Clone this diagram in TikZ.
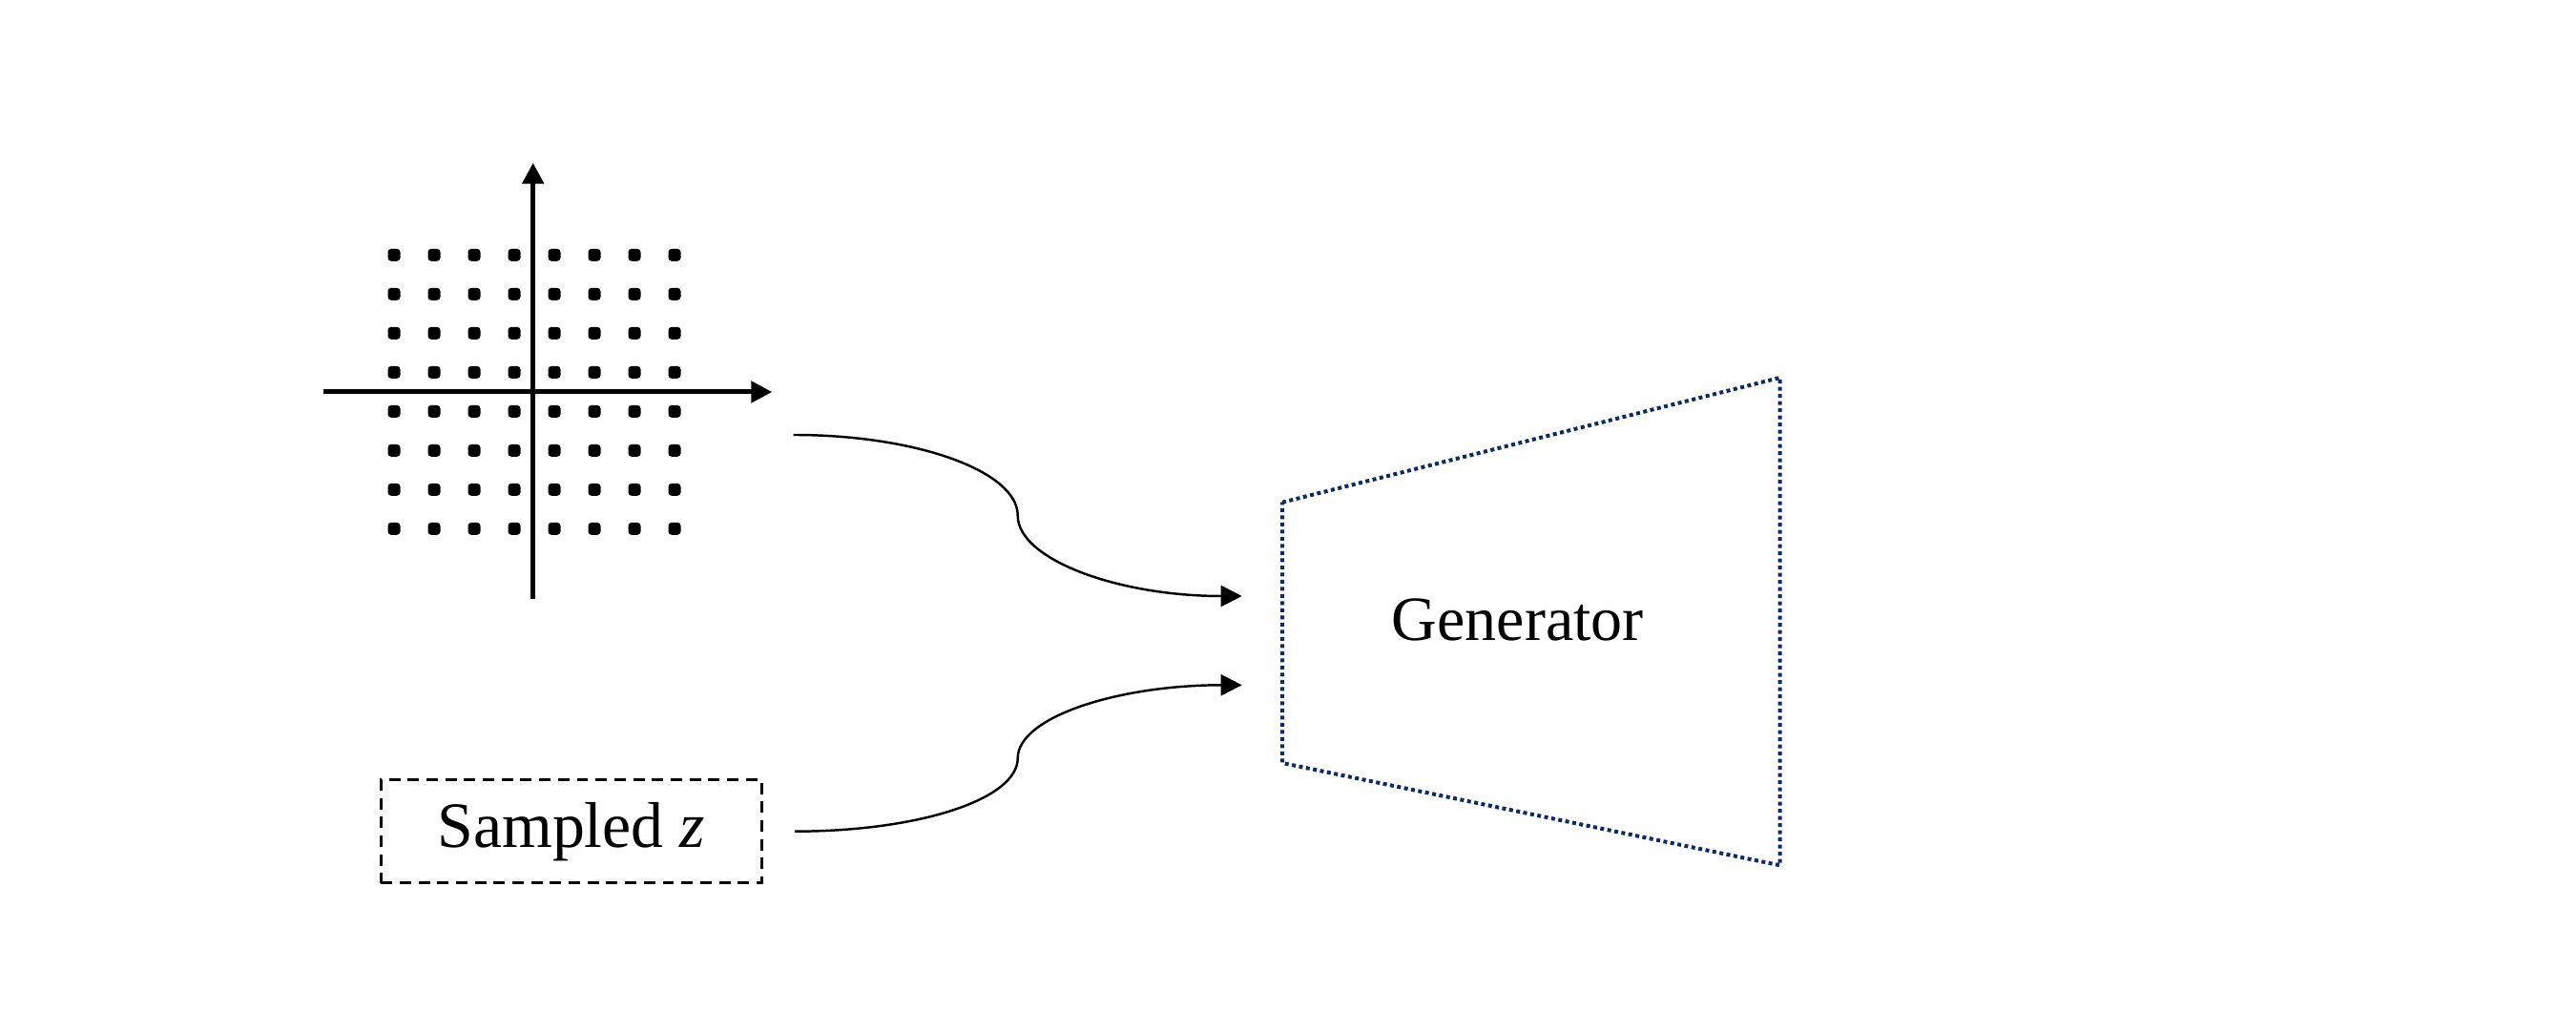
\documentclass[tikz,border=0pt]{standalone}
\usepackage{fontspec}
\setmainfont{Liberation Serif}
\usepackage{tikz}
\usetikzlibrary{arrows.meta,positioning}
\definecolor{gennavy}{HTML}{0B2A66}
\tikzset{
  latticeaxis/.style={line width=0.05cm, -{Triangle[length=0.22cm,width=0.22cm]}},
  flow/.style={line width=0.7pt, -{Triangle[length=0.22cm,width=0.22cm]}},
  samplebox/.style={draw, line width=0.85pt, dash pattern=on 3.4pt off 2.2pt,
    minimum width=3.99cm, minimum height=1.08cm, inner sep=0pt, font=\fontsize{19.3}{22}\selectfont},
}

\begin{document}
\begin{tikzpicture}
  \useasboundingbox (0,0) rectangle (27,10.8);
  % lattice of input points
  \foreach \i in {0,...,7}
    \foreach \j in {0,...,7}
      \fill[rounded corners=0.035cm] ({4.13+0.42*\i-0.065},{8.127-0.41*\j-0.065}) rectangle ++(0.13,0.13);
  \coordinate (xstart) at (3.393,6.69);
  \coordinate (xend) at (8.093,6.69);
  \coordinate (ystart) at (5.587,4.517);
  \coordinate (yend) at (5.587,9.093);
  \draw[latticeaxis] (xstart) -- (xend);
  \draw[latticeaxis] (ystart) -- (yend);

  \node[samplebox] (sampled) at (5.988,2.083) {Sampled \textit{z}};

  % generator
  \coordinate (gtl) at (13.44,5.533);
  \coordinate (gbl) at (13.44,2.80);
  \coordinate (gtr) at (18.657,6.84);
  \coordinate (gbr) at (18.657,1.727);
  \draw[gennavy, line width=0.04cm, dash pattern=on 0.04cm off 0.035cm]
    (gtl) -- (gtr) -- (gbr) -- (gbl) -- cycle;
  \node[font=\fontsize{18.8}{22}\selectfont] (gen) at (15.908,4.305) {Generator};

  % connectors
  \coordinate (gridout) at (8.317,6.24);
  \coordinate (gridmid) at (10.667,5.395);
  \coordinate (gridin) at (13.017,4.55);
  \coordinate (zmid) at (10.667,2.85);
  \coordinate (zin) at (13.017,3.617);
  \draw[flow] (gridout) to[out=0,in=90,out distance=1.3cm,in distance=0.46cm] (gridmid)
    to[out=-90,in=180,out distance=0.46cm,in distance=1.3cm] (gridin);
  \draw[flow] ([xshift=0.334cm]sampled.east) to[out=0,in=-90,out distance=1.3cm,in distance=0.43cm] (zmid)
    to[out=90,in=180,out distance=0.43cm,in distance=1.3cm] (zin);
\end{tikzpicture}
\end{document}
